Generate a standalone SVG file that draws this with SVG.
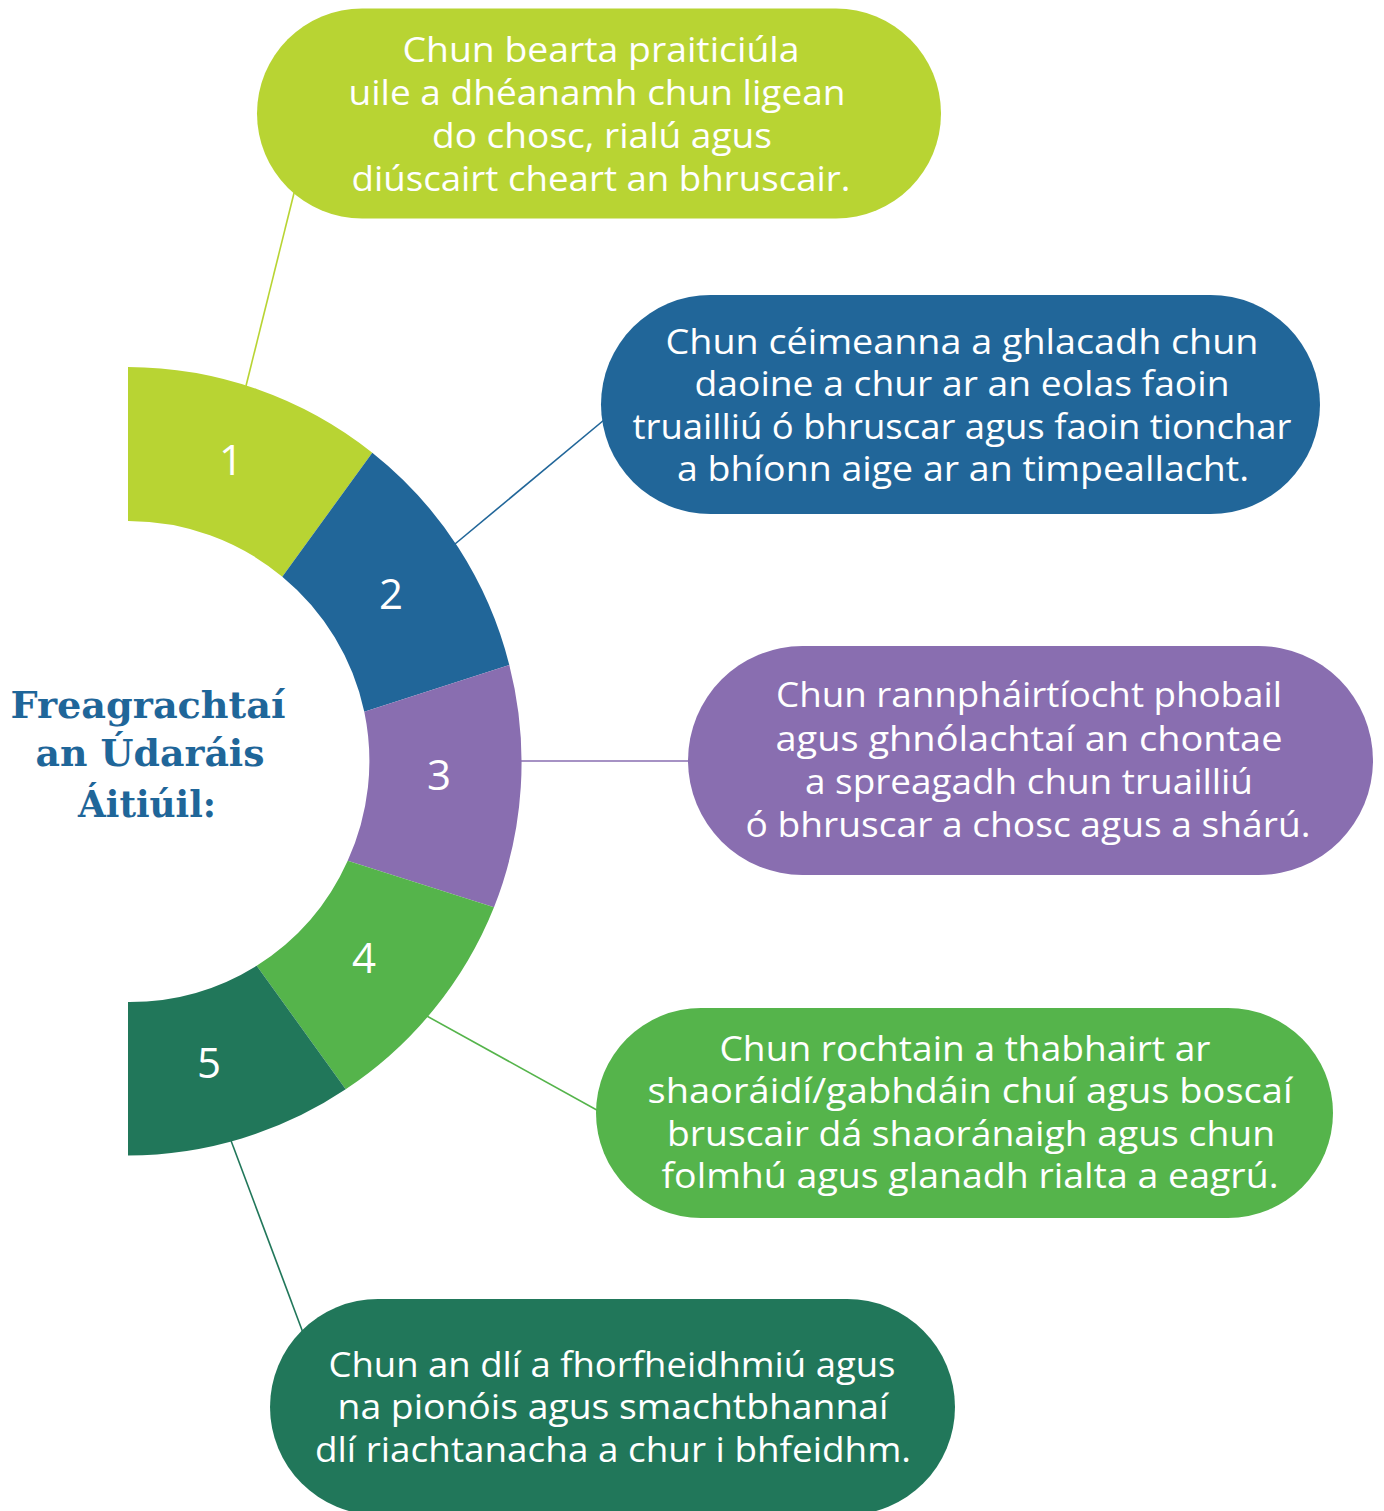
<svg xmlns="http://www.w3.org/2000/svg" width="1384" height="1511" viewBox="0 0 1384 1511">
<style>
.t{font-family:"Open Sans","Liberation Sans",sans-serif;font-size:34px;fill:#fff;text-anchor:middle}
.n{font-family:"Open Sans","Liberation Sans",sans-serif;font-size:42px;fill:#fff;text-anchor:middle}
.h{font-family:"DejaVu Serif","Liberation Serif",serif;font-weight:bold;font-size:37px;fill:#1f6699;text-anchor:middle}
.c{fill:none;stroke-width:1.6}
</style>
<rect width="1384" height="1511" fill="#fff"/>
<g id="connectors">
<line class="c" stroke="#b8d433" x1="246" y1="386" x2="296" y2="185"/>
<line class="c" stroke="#216699" x1="455" y1="544" x2="610" y2="415"/>
<line class="c" stroke="#896eb0" x1="518" y1="761" x2="695" y2="761"/>
<line class="c" stroke="#55b44b" x1="425" y1="1015" x2="604" y2="1114"/>
<line class="c" stroke="#21775a" x1="230" y1="1138" x2="305" y2="1338"/>
</g>
<g id="title">
<text class="h" x="148" y="718" textLength="275" lengthAdjust="spacingAndGlyphs">Freagrachtaí</text>
<text class="h" x="150" y="766" textLength="229" lengthAdjust="spacingAndGlyphs">an Údaráis</text>
<text class="h" x="147" y="817" textLength="138" lengthAdjust="spacingAndGlyphs">Áitiúil:</text>
</g>
<g id="seg1">
<path fill="#b8d433" d="M128,367 A394,394 0 0 1 372.3,452.7 L282.3,576.7 A240.5,240.5 0 0 0 128,521 Z"/>
<text class="n" x="231" y="475">1</text>
</g>
<g id="seg2">
<path fill="#216699" d="M372.3,452.7 A394,394 0 0 1 509.3,665 L364.3,711.7 A240.5,240.5 0 0 0 282.3,576.7 Z"/>
<text class="n" x="391" y="609">2</text>
</g>
<g id="seg3">
<path fill="#896eb0" d="M509.3,665 A394,394 0 0 1 494,907.3 L347.7,860.7 A240.5,240.5 0 0 0 364.3,711.7 Z"/>
<text class="n" x="439" y="790">3</text>
</g>
<g id="seg4">
<path fill="#55b44b" d="M494,907.3 A394,394 0 0 1 345.7,1089.3 L256.7,965.7 A240.5,240.5 0 0 0 347.7,860.7 Z"/>
<text class="n" x="364" y="973">4</text>
</g>
<g id="seg5">
<path fill="#21775a" d="M345.7,1089.3 A394,394 0 0 1 128,1155.5 L128,1002 A240.5,240.5 0 0 0 256.7,965.7 Z"/>
<text class="n" x="209" y="1078">5</text>
</g>
<g id="box1">
<rect x="257" y="8.5" width="684" height="210" rx="105" fill="#b8d433"/>
<text class="t" x="601" y="62" textLength="397" lengthAdjust="spacingAndGlyphs">Chun bearta praiticiúla</text>
<text class="t" x="597" y="105" textLength="497" lengthAdjust="spacingAndGlyphs">uile a dhéanamh chun ligean</text>
<text class="t" x="602" y="148" textLength="340" lengthAdjust="spacingAndGlyphs">do chosc, rialú agus</text>
<text class="t" x="601" y="191" textLength="499" lengthAdjust="spacingAndGlyphs">diúscairt cheart an bhruscair.</text>
</g>
<g id="box2">
<rect x="601" y="295" width="719" height="219" rx="109.5" fill="#216699"/>
<text class="t" x="962" y="354" textLength="593" lengthAdjust="spacingAndGlyphs">Chun céimeanna a ghlacadh chun</text>
<text class="t" x="962" y="396" textLength="535" lengthAdjust="spacingAndGlyphs">daoine a chur ar an eolas faoin</text>
<text class="t" x="962" y="439" textLength="659" lengthAdjust="spacingAndGlyphs">truailliú ó bhruscar agus faoin tionchar</text>
<text class="t" x="963" y="481" textLength="572" lengthAdjust="spacingAndGlyphs">a bhíonn aige ar an timpeallacht.</text>
</g>
<g id="box3">
<rect x="688" y="646" width="685" height="229" rx="114.5" fill="#896eb0"/>
<text class="t" x="1029" y="707" textLength="506" lengthAdjust="spacingAndGlyphs">Chun rannpháirtíocht phobail</text>
<text class="t" x="1029" y="751" textLength="507" lengthAdjust="spacingAndGlyphs">agus ghnólachtaí an chontae</text>
<text class="t" x="1029" y="794" textLength="448" lengthAdjust="spacingAndGlyphs">a spreagadh chun truailliú</text>
<text class="t" x="1028" y="837" textLength="565" lengthAdjust="spacingAndGlyphs">ó bhruscar a chosc agus a shárú.</text>
</g>
<g id="box4">
<rect x="596" y="1008" width="737" height="210" rx="105" fill="#55b44b"/>
<text class="t" x="965" y="1061" textLength="491" lengthAdjust="spacingAndGlyphs">Chun rochtain a thabhairt ar</text>
<text class="t" x="970" y="1103" textLength="645" lengthAdjust="spacingAndGlyphs">shaoráidí/gabhdáin chuí agus boscaí</text>
<text class="t" x="971" y="1146" textLength="608" lengthAdjust="spacingAndGlyphs">bruscair dá shaoránaigh agus chun</text>
<text class="t" x="970" y="1188" textLength="617" lengthAdjust="spacingAndGlyphs">folmhú agus glanadh rialta a eagrú.</text>
</g>
<g id="box5">
<rect x="270" y="1299" width="685" height="216" rx="108" fill="#21775a"/>
<text class="t" x="612" y="1377" textLength="567" lengthAdjust="spacingAndGlyphs">Chun an dlí a fhorfheidhmiú agus</text>
<text class="t" x="613" y="1419" textLength="551" lengthAdjust="spacingAndGlyphs">na pionóis agus smachtbhannaí</text>
<text class="t" x="613" y="1462" textLength="596" lengthAdjust="spacingAndGlyphs">dlí riachtanacha a chur i bhfeidhm.</text>
</g>
</svg>
